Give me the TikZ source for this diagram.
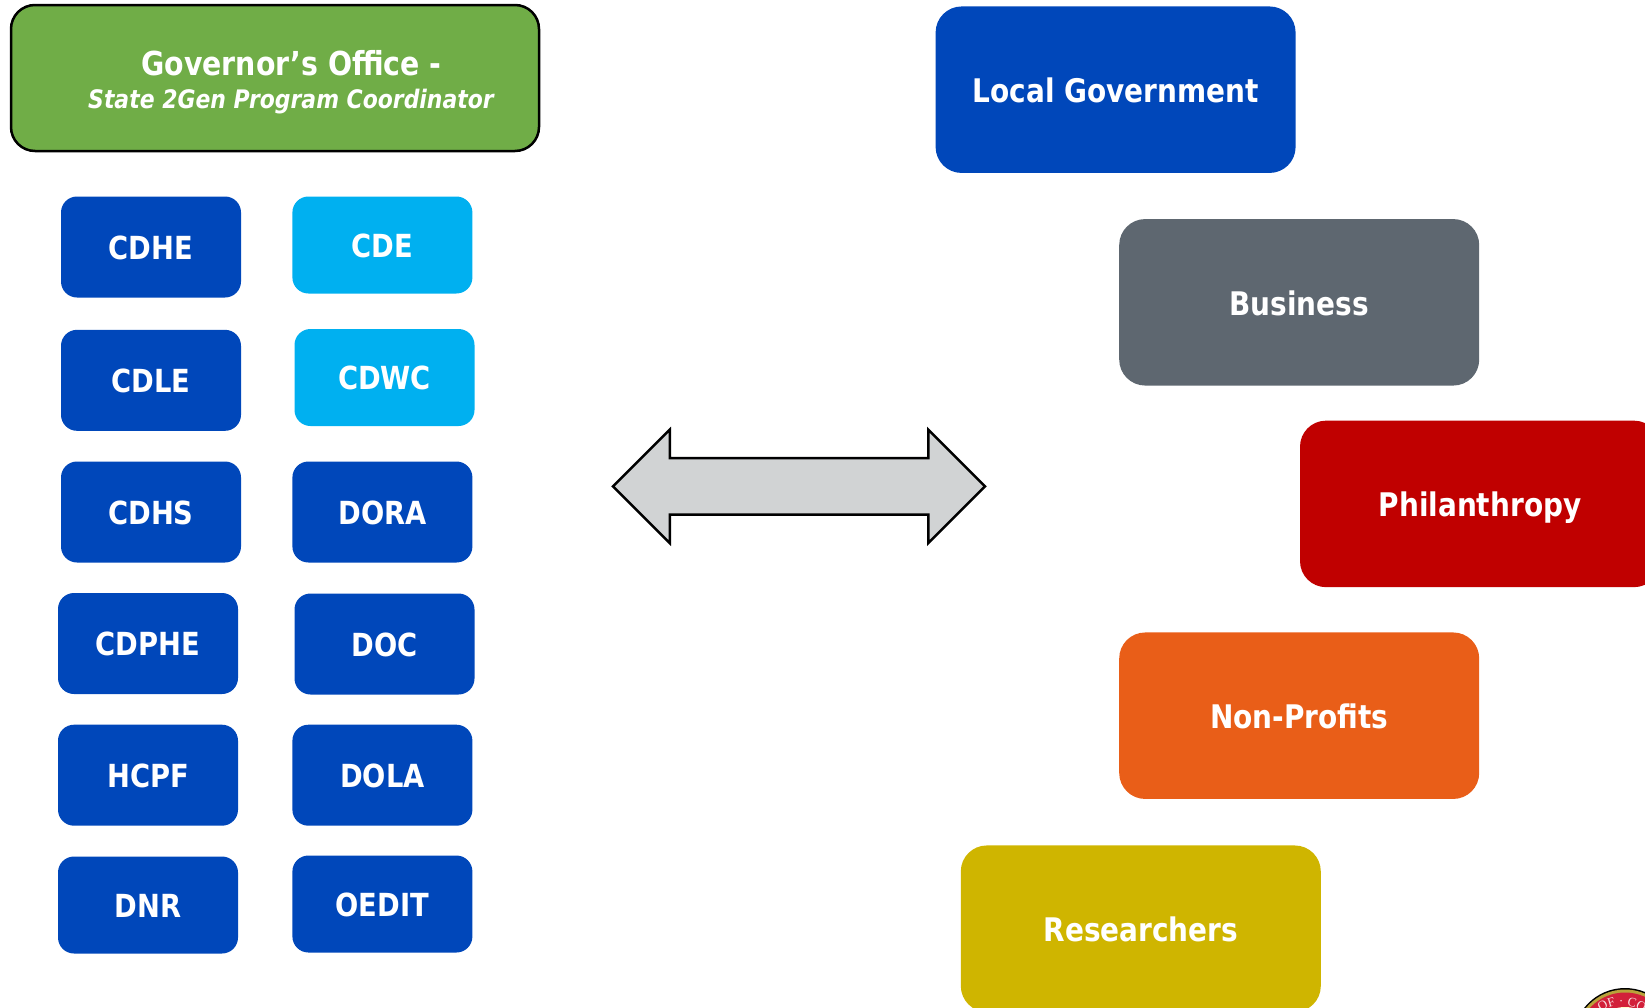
\documentclass[tikz,border=0pt]{standalone}
\usepackage{fontspec}
\setmainfont{DejaVu Sans}[FakeStretch=0.86]
\newfontfamily\sealfont{Liberation Serif}
\usetikzlibrary{shapes.arrows,decorations.text}
\definecolor{govgreen}{HTML}{70AD47}
\definecolor{deptblue}{HTML}{0047BA}
\definecolor{deptsky}{HTML}{00B0F0}
\definecolor{bizgray}{HTML}{5E6770}
\definecolor{philred}{HTML}{C00000}
\definecolor{nonorange}{HTML}{E95E18}
\definecolor{resgold}{HTML}{CFB500}
\definecolor{arrowgray}{HTML}{D1D3D4}
\definecolor{sealred}{HTML}{D2203A}
\definecolor{sealgold}{HTML}{B9A23A}
\begin{document}
\begin{tikzpicture}[x=1pt,y=-1pt,
	box/.style={text=white,font=\bfseries\fontsize{31.8}{36}\selectfont,rounded corners=16pt,inner sep=0pt,align=center,text height=24pt,text depth=0pt},
	dept/.style={box,fill=deptblue,minimum width=180pt,minimum height=101pt},
	sky/.style={box,fill=deptsky,minimum width=180pt,minimum height=97pt},
	partner/.style={box,minimum width=360pt,minimum height=166.5pt,rounded corners=26pt,font=\bfseries\fontsize{32.5}{36}\selectfont,text height=25.5pt}]
	\useasboundingbox (0,0) rectangle (1645,1007);
	\node[box,fill=govgreen,draw=black,line width=2.5pt,minimum width=528pt,minimum height=146pt,rounded corners=24pt] (gov) at (275,78) {};
	\node[box,font=\bfseries\fontsize{33}{36}\selectfont] (govtitle) at (291.5,63.5) {Governor’s Office -};
	\node[box,font=\bfseries\itshape\fontsize{25.5}{30}\selectfont,text height=19pt] (govsub) at (291,99) {State 2Gen Program Coordinator};
	
	\node[dept] (cdhe) at (151,247) {CDHE};
	\node[sky] (cde) at (382.4,245) {CDE};
	\node[dept] (cdle) at (151,380.3) {CDLE};
	\node[sky] (cdwc) at (384.5,377.5) {CDWC};
	\node[dept] (cdhs) at (151,512) {CDHS};
	\node[dept] (dora) at (382.4,512) {DORA};
	\node[dept] (cdphe) at (148,643.5) {CDPHE};
	\node[dept] (doc) at (384.5,644) {DOC};
	\node[dept] (hcpf) at (148,775.2) {HCPF};
	\node[dept] (dola) at (382.4,775.2) {DOLA};
	\node[dept,minimum height=97pt] (dnr) at (148,905) {DNR};
	\node[dept,minimum height=97pt] (oedit) at (382.4,904) {OEDIT};
	
	\node[double arrow,draw=black,line width=2.5pt,fill=arrowgray,inner xsep=0pt,inner ysep=27pt,
		minimum height=372pt,double arrow head extend=28.5pt,
		double arrow head indent=0pt] (link) at (799,486.3) {};
	
	\node[partner,fill=deptblue] (local) at (1115.6,89.7) {Local Government};
	\node[partner,fill=bizgray] (business) at (1299.2,302.3) {Business};
	\node[partner,fill=philred] (phil) at (1480,503.9) {Philanthropy};
	\node[partner,fill=nonorange] (nonprofit) at (1299.2,715.7) {Non-Profits};
	\node[partner,fill=resgold] (research) at (1140.8,928.7) {Researchers};
	
	% seal in the corner
	\fill[black] (1625,1040) circle (52pt);
	\fill[sealgold] (1625,1040) circle (50.5pt);
	\fill[sealred] (1625,1040) circle (47.5pt);
	\fill[yellow!20!white] (1625,1040) circle (33pt);
	\path[decorate,decoration={text along path,text align=center,
		text={|\sealfont\color{white!85!sealred}\fontsize{13}{13}\selectfont|OF · CO}}]
		(1622,1040) ++(200:35) arc[start angle=200,end angle=340,radius=35];
\end{tikzpicture}
\end{document}
